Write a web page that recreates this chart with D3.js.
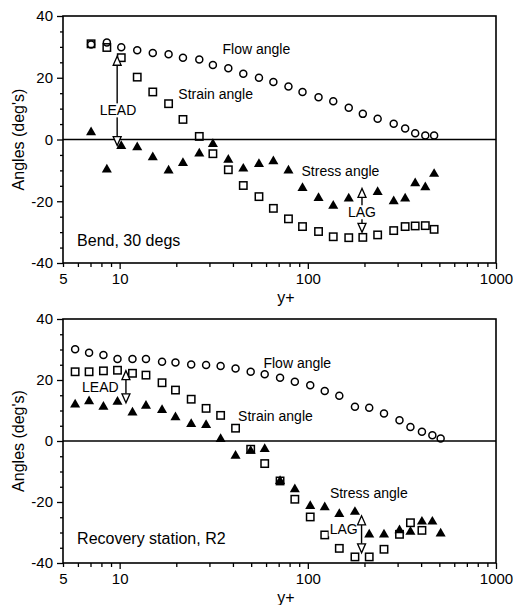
<!DOCTYPE html>
<html>
<head>
<meta charset="utf-8">
<script src="https://cdn.jsdelivr.net/npm/d3@7/dist/d3.min.js"></script>
<style>
  html, body { margin: 0; padding: 0; background: #fff; }
  svg { display: block; font-family: "Liberation Sans", Arial, Helvetica, sans-serif; }
</style>
</head>
<body>
<svg id="chart" width="513" height="605"></svg>
<script>
// ---- Bend, 30 degs ----
const bendX      = [7.05, 8.55, 10.2, 12.4, 15, 18.2, 21.7, 26.5, 31.3, 37.8, 45.4, 55, 65.6, 78.9, 93.7, 114, 136.5, 165, 196, 235, 286, 329, 372, 421, 469];
const bendFlow   = [30.8, 31.4, 29.9, 28.9, 28.0, 27.6, 26.5, 25.9, 24.1, 23.1, 21.3, 20.0, 18.6, 17.2, 15.4, 13.7, 12.4, 10.3, 8.3, 6.7, 5.1, 3.6, 2.0, 1.3, 1.3];
const bendStrain = [31.0, 29.8, 26.5, 20.2, 15.4, 11.6, 6.5, 1.0, -4.6, -9.8, -14.9, -18.5, -22.3, -25.7, -28.2, -29.8, -31.5, -31.8, -31.7, -30.9, -29.5, -28.2, -28.0, -27.9, -29.1];
const bendStress = [2.6, -9.5, -1.9, -2.3, -5.5, -9.8, -7.4, -4.3, -1.2, -6.3, -9.2, -7.7, -6.8, -9.8, -15.5, -18.7, -21.2, -18.9, null, -16.8, -19.8, -18.9, -13.9, -15.2, -10.9];

// ---- Recovery station, R2 ----
const recX      = [5.8, 6.88, 8.2, 9.74, 11.7, 13.8, 16.8, 19.8, 24, 28.8, 34.4, 41.3, 49.7, 59, 71.2, 85.3, 103, 123, 147, 178, 212, 254, 307, 351, 404, 459, 508];
const recFlow   = [30.1, 28.9, 28.2, 26.9, 26.9, 26.9, 26.0, 25.7, 25.1, 24.9, 24.6, 23.8, 22.7, 21.9, 20.7, 19.4, 18.3, 16.4, 14.8, 11.2, 10.9, 9.0, 6.8, 4.6, 3.0, 1.9, 0.8];
const recStrain = [22.7, 22.7, 23.0, 23.2, 22.2, 21.6, 19.1, 16.7, 13.7, 10.7, 8.4, 4.2, -2.7, -7.4, -13.1, -19.1, -24.9, -30.8, -35.2, -38.0, -38.0, -35.5, -30.6, -26.8, -29.3, null, null];
const recStress = [12.2, 13.3, 11.5, 13.1, 9.6, 11.8, 10.4, 8.0, 5.8, 5.5, 0.9, -4.6, -3.0, -2.4, -12.9, -15.6, -21.1, -21.5, -23.7, -23.0, -30.4, -30.4, -29.0, -29.5, -26.2, -26.2, -30.1];

// ---- Axis ticks ----
const yTicks = d3.range(-40, 41, 5);
const yLabels = [-40, -20, 0, 20, 40];
const xTicks = [5, 6, 7, 8, 9, 10, 20, 30, 40, 50, 60, 70, 80, 90, 100, 200, 300, 400, 500, 600, 700, 800, 900, 1000];
const xLabels = [5, 10, 100, 1000];

// ---- Annotations: [text, x, y] with text start (or centre) in data units ----
const bendNotes = [["Flow angle", 35.2, 29.2], ["Strain angle", 20.5, 14.6], ["Stress angle", 92.6, -10.1]];
const recNotes  = [["Flow angle", 58.1, 25.7], ["Strain angle", 42.6, 8.2], ["Stress angle", 131, -17.1]];
// lead / lag arrows: [label, x, yFrom, yTo, labelX, labelY]
const bendArrows = [["LEAD", 9.7, 25.5, -0.5, 9.8, 9.4], ["LAG", 194, -17.3, -28.6, 194, -23.6]];
const recArrows  = [["LEAD", 10.8, 21.6, 14.0, 7.9, 17.7], ["LAG", 193, -26.0, -35.2, 155, -29.0]];

const svg = d3.select("#chart");
const x = d3.scaleLog().domain([5, 1000]).range([63, 496]);

function panel(cfg) {
  const y = d3.scaleLinear().domain([-40, 40]).range([cfg.bottom, cfg.top]);
  const g = svg.append("g");

  // y axis
  const ya = g.append("g").attr("transform", `translate(${x.range()[0]},0)`)
    .call(d3.axisLeft(y).tickValues(yTicks).tickSizeOuter(0).tickPadding(4)
      .tickFormat(d => yLabels.includes(d) ? String(d) : ""));
  ya.selectAll(".tick line").attr("x2", d => yLabels.includes(d) ? -6 : -3).attr("stroke-width", 1.3);
  ya.select(".domain").remove();
  ya.selectAll("text").attr("font-size", 15).attr("font-family", "Liberation Sans, Arial, sans-serif").attr("fill", "#000");

  // x axis
  const xa = g.append("g").attr("transform", `translate(0,${cfg.bottom})`)
    .call(d3.axisBottom(x).tickValues(xTicks).tickSizeOuter(0).tickPadding(4)
      .tickFormat(d => xLabels.includes(d) ? String(d) : ""));
  xa.selectAll(".tick line").attr("y2", d => xLabels.includes(d) && d !== 5 ? 6 : 4).attr("stroke-width", 1.3);
  xa.select(".domain").remove();
  xa.selectAll("text").attr("font-size", 15).attr("font-family", "Liberation Sans, Arial, sans-serif").attr("fill", "#000");

  // frame and zero line
  g.append("rect").attr("x", x.range()[0]).attr("y", cfg.top)
    .attr("width", x.range()[1] - x.range()[0]).attr("height", cfg.bottom - cfg.top)
    .attr("fill", "none").attr("stroke", "#000").attr("stroke-width", 1.6);
  g.append("line").attr("x1", x.range()[0]).attr("x2", x.range()[1])
    .attr("y1", y(0)).attr("y2", y(0)).attr("stroke", "#000").attr("stroke-width", 1.5);

  // axis titles
  g.append("text").attr("transform", `translate(24,${y(0)}) rotate(-90)`)
    .attr("text-anchor", "middle").attr("font-size", 16).text("Angles (deg's)");
  g.append("text").attr("x", 286).attr("y", cfg.bottom + 40)
    .attr("text-anchor", "middle").attr("font-size", 16).text("y+");

  const pts = (xs, ys) => xs.map((v, i) => [v, ys[i]]).filter(p => p[1] !== null);

  // strain angle: open squares
  g.append("g").selectAll("rect").data(pts(cfg.xs, cfg.strain)).join("rect")
    .attr("x", d => x(d[0]) - 3.7).attr("y", d => y(d[1]) - 3.7)
    .attr("width", 7.4).attr("height", 7.4)
    .attr("fill", "none").attr("stroke", "#000").attr("stroke-width", 1.5);

  // flow angle: open circles
  g.append("g").selectAll("circle").data(pts(cfg.xs, cfg.flow)).join("circle")
    .attr("cx", d => x(d[0])).attr("cy", d => y(d[1])).attr("r", 3.5)
    .attr("fill", "none").attr("stroke", "#000").attr("stroke-width", 1.5);

  // stress angle: filled triangles
  const tri = d3.symbol().type(d3.symbolTriangle).size(44);
  g.append("g").selectAll("path").data(pts(cfg.xs, cfg.stress)).join("path")
    .attr("d", tri).attr("transform", d => `translate(${x(d[0])},${y(d[1]) + 0.8})`)
    .attr("fill", "#000");

  // series labels
  g.append("g").selectAll("text").data(cfg.notes).join("text")
    .attr("x", d => x(d[1])).attr("y", d => y(d[2])).attr("dy", "0.35em")
    .attr("font-size", 14).text(d => d[0]);

  // lead / lag arrows
  cfg.arrows.forEach(a => {
    const ax = x(a[1]), y1 = y(a[2]), y2 = y(a[3]);
    const dir = y2 > y1 ? 1 : -1;
    const h = 9, w = 4;
    g.append("line").attr("x1", ax).attr("x2", ax)
      .attr("y1", y1 + dir * h / 2).attr("y2", y2 - dir * h / 2)
      .attr("stroke", "#000").attr("stroke-width", 1.4);
    const label = g.append("text").attr("x", x(a[4])).attr("y", y(a[5])).attr("dy", "0.35em")
      .attr("text-anchor", "middle").attr("font-size", 14).text(a[0]);
    const bb = label.node().getBBox();
    g.insert("rect", () => label.node())
      .attr("x", bb.x - 1).attr("y", bb.y + 1).attr("width", bb.width + 2).attr("height", bb.height - 2)
      .attr("fill", "#fff");
    // open heads: pointing away from each other
    g.append("path")
      .attr("d", `M${ax},${y1 - dir * h / 2} L${ax - w},${y1 + dir * h / 2} L${ax + w},${y1 + dir * h / 2} Z`)
      .attr("fill", "#fff").attr("stroke", "#000").attr("stroke-width", 1.3);
    g.append("path")
      .attr("d", `M${ax},${y2 + dir * h / 2} L${ax - w},${y2 - dir * h / 2} L${ax + w},${y2 - dir * h / 2} Z`)
      .attr("fill", "#fff").attr("stroke", "#000").attr("stroke-width", 1.3);
  });

  // station label
  g.append("text").attr("x", x(5.94)).attr("y", y(cfg.boxY)).attr("dy", "0.35em")
    .attr("font-size", 16).text(cfg.title);
}

panel({ top: 16, bottom: 263, xs: bendX, flow: bendFlow, strain: bendStrain, stress: bendStress,
        notes: bendNotes, arrows: bendArrows, title: "Bend, 30 degs", boxY: -32.8 });
panel({ top: 319, bottom: 563, xs: recX, flow: recFlow, strain: recStrain, stress: recStress,
        notes: recNotes, arrows: recArrows, title: "Recovery station, R2", boxY: -31.8 });
</script>
</body>
</html>
